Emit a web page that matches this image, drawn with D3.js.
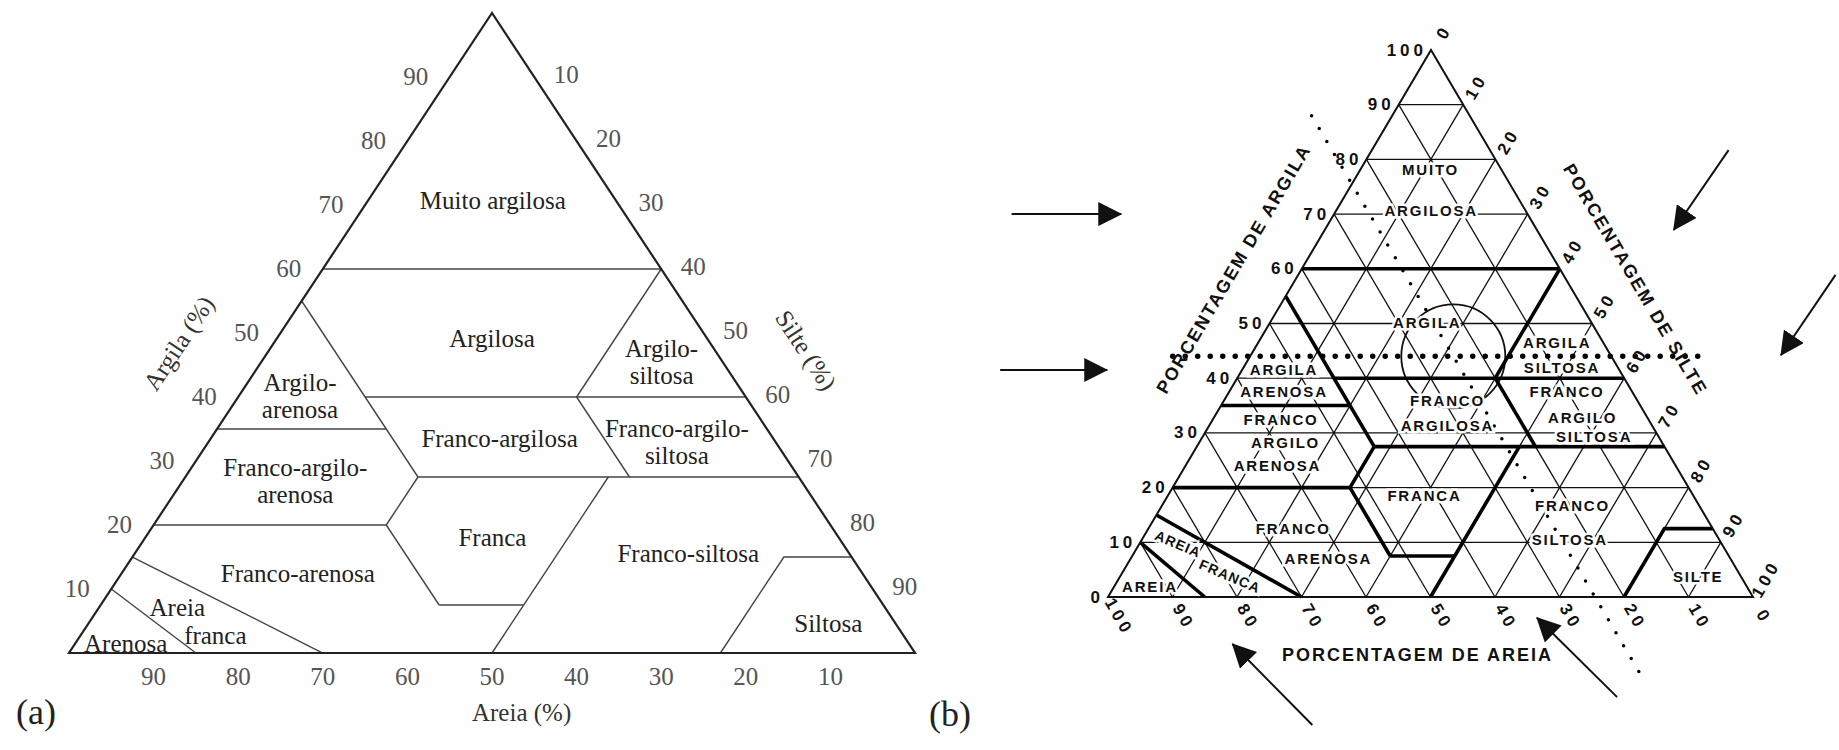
<!DOCTYPE html>
<html>
<head>
<meta charset="utf-8">
<script src="https://cdn.jsdelivr.net/npm/d3@7"></script>
<style>
  body { margin: 0; background: #fff; }
  svg { display: block; }
</style>
</head>
<body>
<div id="chart"></div>
<script>
// tick values on the three sides
var ticksA = [10, 20, 30, 40, 50, 60, 70, 80, 90];
var ticksB = [0, 10, 20, 30, 40, 50, 60, 70, 80, 90, 100];
var gridB = [10, 20, 30, 40, 50, 60, 70, 80, 90];

// class boundaries, points given as [sand %, clay %]
var boundaries = [
  [[40, 60], [0, 60]],
  [[45, 55], [45, 27.5]],
  [[65, 35], [45, 35]],
  [[45, 40], [0, 40]],
  [[0, 60], [20, 40]],
  [[20, 40], [20, 27.5]],
  [[45, 27.5], [0, 27.5]],
  [[45, 27.5], [52.5, 20]],
  [[80, 20], [52.5, 20]],
  [[52.5, 20], [52.5, 7.5]],
  [[52.5, 7.5], [42.5, 7.5]],
  [[22.5, 27.5], [50, 0]],
  [[85, 15], [70, 0]],
  [[90, 10], [85, 0]]
];
var siltosaA = [[23, 0], [8, 15], [0, 15]];
var siltosaB = [[20, 0], [7.5, 12.5], [0, 12.5]];

// class names (a)
var labelsA = [
  {lines: ["Muito argilosa"], sand: 14.5, clay: 70.8},
  {lines: ["Argilosa"], sand: 25.4, clay: 49.2},
  {lines: ["Argilo-", "siltosa"], sand: 7.2, clay: 45.5},
  {lines: ["Argilo-", "arenosa"], sand: 52.6, clay: 40.2},
  {lines: ["Franco-argilosa"], sand: 32.3, clay: 33.6},
  {lines: ["Franco-argilo-", "siltosa"], sand: 11.6, clay: 33.1},
  {lines: ["Franco-argilo-", "arenosa"], sand: 59.8, clay: 26.9},
  {lines: ["Franca"], sand: 40.9, clay: 18.1},
  {lines: ["Franco-arenosa"], sand: 66.7, clay: 12.5},
  {lines: ["Franco-siltosa"], sand: 19.0, clay: 15.6},
  {lines: ["Areia"], sand: 83.6, clay: 7.2},
  {lines: ["franca"], sand: 81.3, clay: 2.8},
  {lines: ["Arenosa"], sand: 92.5, clay: 1.6},
  {lines: ["Siltosa"], sand: 7.9, clay: 4.7}
];

// class names (b)
var labelsB = [
  {text: "MUITO", sand: 11.0, clay: 78.1},
  {text: "ARGILOSA", sand: 14.6, clay: 70.7},
  {text: "ARGILA", sand: 25.5, clay: 50.1},
  {text: "ARGILA", sand: 52.0, clay: 41.5},
  {text: "ARENOSA", sand: 54.0, clay: 37.5},
  {text: "ARGILA", sand: 7.1, clay: 46.6},
  {text: "SILTOSA", sand: 8.7, clay: 41.9},
  {text: "FRANCO", sand: 29.4, clay: 36.0},
  {text: "ARGILOSA", sand: 31.7, clay: 31.4},
  {text: "FRANCO", sand: 10.1, clay: 37.5},
  {text: "ARGILO", sand: 10.0, clay: 32.9},
  {text: "SILTOSA", sand: 10.0, clay: 29.3},
  {text: "FRANCO", sand: 57.0, clay: 32.4},
  {text: "ARGILO", sand: 58.4, clay: 28.2},
  {text: "ARENOSA", sand: 61.7, clay: 24.1},
  {text: "FRANCA", sand: 41.7, clay: 18.5},
  {text: "FRANCO", sand: 19.6, clay: 16.8},
  {text: "SILTOSA", sand: 23.1, clay: 10.6},
  {text: "FRANCO", sand: 65.0, clay: 12.6},
  {text: "ARENOSA", sand: 62.3, clay: 7.1},
  {text: "AREIA", sand: 84.3, clay: 9.7, slanted: true},
  {text: "FRANCA", sand: 79.2, clay: 3.8, slanted: true},
  {text: "AREIA", sand: 92.5, clay: 2.0},
  {text: "SILTE", sand: 6.6, clay: 3.8}
];

// example sample marked on (b) and its guide lines
var sampleB = {sand: 24.5, clay: 44};
var clayGuideSand = [68, -15];
var sandGuideClay = [88, -14];

// arrows on (b), [sand, clay] from -> to
var arrowsB = [
  [[80, 70], [63, 70]],
  [[96, 41.5], [79.4, 41.5]],
  [[-37, 81.7], [-21.2, 67.1]],
  [[-42.2, 58.9], [-26.4, 44.2]],
  [[80, -23.4], [85, -8.6]],
  [[30.2, -18.3], [35.4, -3.8]]
];

// layout
var triA = {left: [69, 653], right: [915, 653], apex: [492, 13]};
var triB = {left: [1108, 597], right: [1753, 597], apex: [1431, 50]};

var svg = d3.select("#chart")
  .append("svg")
  .attr("width", 1839)
  .attr("height", 750);

var defs = svg.append("defs");
defs.append("marker")
  .attr("id", "head")
  .attr("markerUnits", "userSpaceOnUse")
  .attr("viewBox", "0 0 24 24")
  .attr("markerWidth", 24)
  .attr("markerHeight", 24)
  .attr("refX", 23)
  .attr("refY", 12)
  .attr("orient", "auto")
  .append("path")
  .attr("d", "M0,0L24,12L0,24Z")
  .attr("fill", "#111");

// ternary projection built from linear scales
function ternary(tri) {
  var sandX = d3.scaleLinear().domain([100, 0]).range([tri.left[0], tri.right[0]]);
  var clayY = d3.scaleLinear().domain([0, 100]).range([tri.left[1], tri.apex[1]]);
  var clayShift = d3.scaleLinear().domain([0, 100]).range([0, tri.apex[0] - tri.right[0]]);
  return function(sand, clay) { return [sandX(sand) + clayShift(clay), clayY(clay)]; };
}

function lineFor(proj) {
  return d3.line()
    .x(function(d) { return proj(d[0], d[1])[0]; })
    .y(function(d) { return proj(d[0], d[1])[1]; });
}

var outline = [[100, 0], [0, 0], [0, 100], [100, 0]];

// ---------------- (a) ----------------
var pA = ternary(triA);
var lineA = lineFor(pA);
var gA = svg.append("g");

gA.selectAll(".bnd")
  .data(boundaries.concat([siltosaA]))
  .enter()
  .append("path")
  .attr("d", lineA)
  .attr("fill", "none")
  .attr("stroke", "#444")
  .attr("stroke-width", 1.4);

gA.append("path")
  .attr("d", lineA(outline) + "Z")
  .attr("fill", "none")
  .attr("stroke", "#222")
  .attr("stroke-width", 2.2)
  .attr("stroke-linejoin", "miter");

var serif = "'Liberation Serif', 'Times New Roman', serif";

var tickA = gA.append("g")
  .attr("font-family", serif)
  .attr("font-size", 25)
  .attr("fill", "#555")
  .attr("text-anchor", "middle")
  .attr("dominant-baseline", "central");

// clay on the left side
tickA.selectAll(".tl")
  .data(ticksA)
  .enter()
  .append("text")
  .attr("x", function(d) { return pA(100 - d, d)[0] - 34; })
  .attr("y", function(d) { return pA(100 - d, d)[1] - 1; })
  .text(function(d) { return d; });

// silt on the right side
tickA.selectAll(".tr")
  .data(ticksA)
  .enter()
  .append("text")
  .attr("x", function(d) { return pA(0, 100 - d)[0] + 32; })
  .attr("y", function(d) { return pA(0, 100 - d)[1] - 3; })
  .text(function(d) { return d; });

// sand along the bottom
tickA.selectAll(".tb")
  .data(ticksA)
  .enter()
  .append("text")
  .attr("x", function(d) { return pA(d, 0)[0]; })
  .attr("y", function(d) { return pA(d, 0)[1] + 23; })
  .text(function(d) { return d; });

var angA = Math.atan2(triA.apex[1] - triA.left[1], triA.apex[0] - triA.left[0]) * 180 / Math.PI;

var titleA = gA.append("g")
  .attr("font-family", serif)
  .attr("font-size", 25)
  .attr("fill", "#333")
  .attr("text-anchor", "middle")
  .attr("dominant-baseline", "central");

var argA = pA(51.6, 48.4);
titleA.append("text")
  .attr("transform", "translate(" + (argA[0] - 95) + "," + argA[1] + ") rotate(" + angA + ")")
  .text("Argila (%)");

var silA = pA(0, 47.3);
titleA.append("text")
  .attr("transform", "translate(" + (silA[0] + 91) + "," + silA[1] + ") rotate(" + (-angA) + ")")
  .text("Silte (%)");

var areA = pA(46.5, 0);
titleA.append("text")
  .attr("x", areA[0])
  .attr("y", areA[1] + 59)
  .text("Areia (%)");

var classA = gA.append("g")
  .attr("font-family", serif)
  .attr("font-size", 25)
  .attr("fill", "#222")
  .attr("text-anchor", "middle")
  .attr("dominant-baseline", "central");

labelsA.forEach(function(d) {
  var p = pA(d.sand, d.clay);
  var lh = 27;
  var t = classA.append("text");
  d.lines.forEach(function(line, i) {
    t.append("tspan")
      .attr("x", p[0])
      .attr("y", p[1] + (i - (d.lines.length - 1) / 2) * lh)
      .text(line);
  });
});

svg.append("text")
  .attr("x", 36)
  .attr("y", 712)
  .attr("font-family", serif)
  .attr("font-size", 36)
  .attr("fill", "#222")
  .attr("text-anchor", "middle")
  .attr("dominant-baseline", "central")
  .text("(a)");

svg.append("text")
  .attr("x", 950)
  .attr("y", 714)
  .attr("font-family", serif)
  .attr("font-size", 36)
  .attr("fill", "#222")
  .attr("text-anchor", "middle")
  .attr("dominant-baseline", "central")
  .text("(b)");

// ---------------- (b) ----------------
var pB = ternary(triB);
var lineB = lineFor(pB);
var gB = svg.append("g");
var sans = "'Liberation Sans', Arial, sans-serif";

// 10 % grid in the three directions
var gridLines = [];
gridB.forEach(function(v) {
  gridLines.push([[100 - v, v], [0, v]]);       // clay
  gridLines.push([[v, 0], [v, 100 - v]]);       // sand
  gridLines.push([[100 - v, 0], [0, 100 - v]]); // silt
});

gB.selectAll(".grid")
  .data(gridLines)
  .enter()
  .append("path")
  .attr("d", lineB)
  .attr("fill", "none")
  .attr("stroke", "#111")
  .attr("stroke-width", 1.3);

// sample guides
var guide = gB.append("g").attr("fill", "none").attr("stroke", "#000").attr("stroke-linecap", "round");
guide.append("path")
  .attr("d", lineB([[clayGuideSand[0], sampleB.clay], [clayGuideSand[1], sampleB.clay]]))
  .attr("stroke-width", 5.5)
  .attr("stroke-dasharray", "0 12.5");
guide.append("path")
  .attr("d", lineB([[sampleB.sand, sandGuideClay[0]], [sampleB.sand, sandGuideClay[1]]]))
  .attr("stroke-width", 3.5)
  .attr("stroke-dasharray", "0 15");

var sp = pB(sampleB.sand, sampleB.clay);
gB.append("circle")
  .attr("cx", sp[0])
  .attr("cy", sp[1])
  .attr("r", 52)
  .attr("fill", "none")
  .attr("stroke", "#111")
  .attr("stroke-width", 1.8);

// class boundaries
gB.selectAll(".bnd")
  .data(boundaries.concat([siltosaB]))
  .enter()
  .append("path")
  .attr("d", lineB)
  .attr("fill", "none")
  .attr("stroke", "#000")
  .attr("stroke-width", 3.6)
  .attr("stroke-linejoin", "round");

gB.append("path")
  .attr("d", lineB(outline) + "Z")
  .attr("fill", "none")
  .attr("stroke", "#111")
  .attr("stroke-width", 2);

// class labels
gB.append("g")
  .attr("font-family", sans)
  .attr("font-weight", "bold")
  .attr("fill", "#111")
  .attr("stroke", "#fff")
  .attr("stroke-width", 5)
  .attr("paint-order", "stroke")
  .attr("text-anchor", "middle")
  .attr("dominant-baseline", "central")
  .selectAll("text")
  .data(labelsB)
  .enter()
  .append("text")
  .attr("font-size", function(d) { return d.slanted ? 14 : 15; })
  .attr("letter-spacing", function(d) { return d.slanted ? 1 : 1.8; })
  .attr("transform", function(d) {
    var p = pB(d.sand, d.clay);
    return "translate(" + p[0] + "," + p[1] + ")" + (d.slanted ? " rotate(23)" : "");
  })
  .text(function(d) { return d.text; });

// tick labels
var tickB = gB.append("g")
  .attr("font-family", sans)
  .attr("font-weight", "bold")
  .attr("font-size", 17)
  .attr("letter-spacing", 4)
  .attr("fill", "#111")
  .attr("dominant-baseline", "central");

tickB.selectAll(".tl")
  .data(ticksB)
  .enter()
  .append("text")
  .attr("text-anchor", "end")
  .attr("x", function(d) { return pB(100 - d, d)[0] - 4; })
  .attr("y", function(d) { return pB(100 - d, d)[1]; })
  .text(function(d) { return d; });

tickB.selectAll(".tr")
  .data(ticksB)
  .enter()
  .append("text")
  .attr("text-anchor", "middle")
  .attr("transform", function(d) {
    var p = pB(0, 100 - d);
    return "translate(" + (p[0] + 13) + "," + (p[1] - 18) + ") rotate(-60)";
  })
  .text(function(d) { return d; });

tickB.selectAll(".tb")
  .data(ticksB)
  .enter()
  .append("text")
  .attr("text-anchor", "middle")
  .attr("transform", function(d) {
    var p = pB(d, 0);
    return "translate(" + (p[0] + 11) + "," + (p[1] + 20) + ") rotate(60)";
  })
  .text(function(d) { return d; });

// axis titles
var angB = Math.atan2(triB.apex[1] - triB.left[1], triB.apex[0] - triB.left[0]) * 180 / Math.PI;
var titleB = gB.append("g")
  .attr("font-family", sans)
  .attr("font-weight", "bold")
  .attr("font-size", 18)
  .attr("letter-spacing", 2)
  .attr("fill", "#111")
  .attr("text-anchor", "middle")
  .attr("dominant-baseline", "central");

var argB = pB(40, 60);
titleB.append("text")
  .attr("transform", "translate(" + (argB[0] - 68) + "," + argB[1] + ") rotate(" + angB + ")")
  .text("PORCENTAGEM DE ARGILA");

var silB = pB(0, 58);
titleB.append("text")
  .attr("transform", "translate(" + (silB[0] + 69) + "," + silB[1] + ") rotate(" + (-angB) + ")")
  .text("PORCENTAGEM DE SILTE");

var areB = pB(52, 0);
titleB.append("text")
  .attr("x", areB[0])
  .attr("y", areB[1] + 58)
  .text("PORCENTAGEM DE AREIA");

// arrows
gB.selectAll(".arrow")
  .data(arrowsB)
  .enter()
  .append("path")
  .attr("d", lineB)
  .attr("fill", "none")
  .attr("stroke", "#111")
  .attr("stroke-width", 2)
  .attr("marker-end", "url(#head)");
</script>
</body>
</html>
